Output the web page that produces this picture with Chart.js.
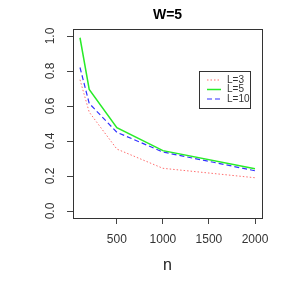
<!DOCTYPE html>
<html>
<head>
<meta charset="utf-8">
<script src="https://cdn.jsdelivr.net/npm/chart.js@4"></script>
<style>
  html, body { margin: 0; padding: 0; background: #fff; }
  #wrap { width: 291px; height: 291px; }
</style>
</head>
<body>
<div id="wrap"><canvas id="chart" width="291" height="291"></canvas></div>
<script>
// values
const nValues = [100, 200, 500, 1000, 2000];
const seriesL3 = [0.75, 0.565, 0.354, 0.244, 0.19];
const seriesL5 = [0.99, 0.695, 0.476, 0.345, 0.242];
const seriesL10 = [0.82, 0.615, 0.45, 0.337, 0.23];
const seriesNames = ["L=3", "L=5", "L=10"];
const xTicks = [500, 1000, 1500, 2000];
const yTicks = [0, 0.2, 0.4, 0.6, 0.8, 1.0];
const titleText = "W=5";
const xLabel = "n";

const FONT = "'Liberation Sans', Arial, sans-serif";

function toPoints(ys) {
  return nValues.map((x, i) => ({ x: x, y: ys[i] }));
}

// draws the R-style pieces: box, title, rotated y labels, x label, legend
const rStyle = {
  id: "rStyle",
  afterDraw(chart) {
    const ctx = chart.ctx;
    const a = chart.chartArea;
    const ys = chart.scales.y;
    ctx.save();
    ctx.strokeStyle = "#333";
    ctx.lineWidth = 1;
    ctx.strokeRect(Math.round(a.left) + 0.5, Math.round(a.top) + 0.5,
      Math.round(a.right - a.left), Math.round(a.bottom - a.top));

    const cx = (a.left + a.right) / 2;
    ctx.fillStyle = "#000";
    ctx.textAlign = "center";
    ctx.textBaseline = "middle";
    ctx.font = "bold 14px " + FONT;
    ctx.fillText(titleText, cx, 15);

    ctx.font = "16px " + FONT;
    ctx.fillStyle = "#222";
    ctx.fillText(xLabel, cx, 266);

    ctx.font = "12px " + FONT;
    ctx.fillStyle = "#333";
    yTicks.forEach((v) => {
      ctx.save();
      ctx.translate(51, ys.getPixelForValue(v));
      ctx.rotate(-Math.PI / 2);
      ctx.fillText(v.toFixed(1), 0, 0);
      ctx.restore();
    });

    // legend box
    const lx = 199.5, ly = 71.5, lw = 51, lh = 37;
    ctx.strokeStyle = "#333";
    ctx.strokeRect(lx, ly, lw, lh);
    ctx.font = "10px " + FONT;
    ctx.textAlign = "left";
    chart.data.datasets.forEach((ds, i) => {
      const y = 80 + i * 9.5;
      ctx.save();
      ctx.strokeStyle = ds.borderColor;
      ctx.lineWidth = ds.borderWidth;
      ctx.setLineDash(ds.borderDash || []);
      ctx.beginPath();
      ctx.moveTo(207, y);
      ctx.lineTo(221, y);
      ctx.stroke();
      ctx.restore();
      ctx.fillStyle = "#333";
      ctx.fillText(ds.label, 227, y);
    });
    ctx.restore();
  },
};

const chart = new Chart(document.getElementById("chart").getContext("2d"), {
  type: "line",
  data: {
    datasets: [
      {
        label: seriesNames[0],
        data: toPoints(seriesL3),
        borderColor: "rgb(255,110,110)",
        borderWidth: 1,
        borderDash: [1.5, 2],
      },
      {
        label: seriesNames[1],
        data: toPoints(seriesL5),
        borderColor: "rgb(40,235,40)",
        borderWidth: 1.5,
      },
      {
        label: seriesNames[2],
        data: toPoints(seriesL10),
        borderColor: "rgb(50,50,255)",
        borderWidth: 1.2,
        borderDash: [5, 3],
      },
    ],
  },
  options: {
    responsive: false,
    animation: false,
    devicePixelRatio: 1,
    layout: { padding: { top: 29, right: 29, left: 0, bottom: 0 } },
    elements: { point: { radius: 0 }, line: { tension: 0 } },
    plugins: {
      legend: { display: false },
      tooltip: { enabled: false },
    },
    scales: {
      x: {
        type: "linear",
        min: 24,
        max: 2076,
        afterBuildTicks: (s) => { s.ticks = xTicks.map((v) => ({ value: v })); },
        afterFit: (s) => { s.height = 73; },
        border: { display: false },
        grid: { drawOnChartArea: false, tickLength: 6, color: "#444" },
        ticks: {
          color: "#333",
          padding: 8,
          maxRotation: 0,
          font: { family: FONT, size: 12 },
          callback: (v) => String(v),
        },
      },
      y: {
        min: -0.04,
        max: 1.04,
        afterBuildTicks: (s) => { s.ticks = yTicks.map((v) => ({ value: v })); },
        afterFit: (s) => { s.width = 73; },
        border: { display: false },
        grid: { drawOnChartArea: false, tickLength: 6, color: "#444" },
        ticks: { color: "rgba(0,0,0,0)", font: { family: FONT, size: 12 } },
      },
    },
  },
  plugins: [rStyle],
});
</script>
</body>
</html>
